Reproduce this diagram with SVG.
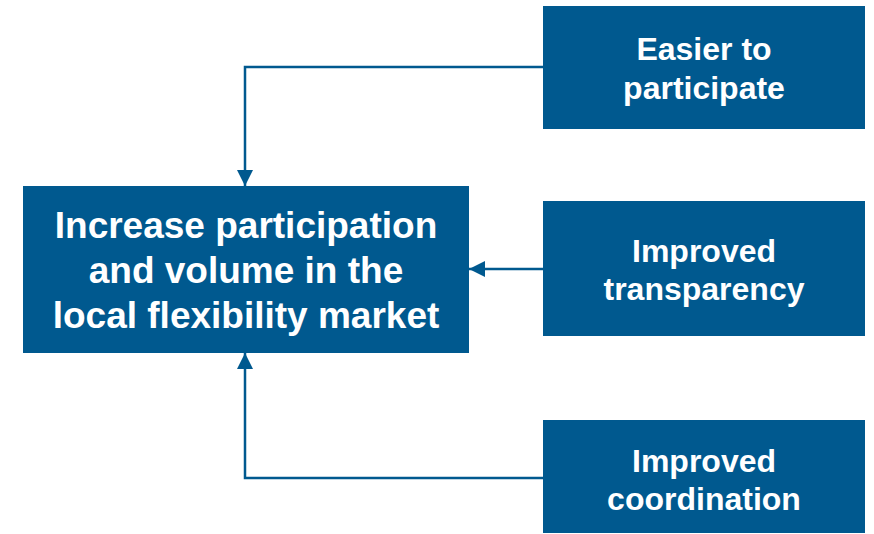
<svg xmlns="http://www.w3.org/2000/svg" width="874" height="534" viewBox="0 0 874 534">
<style>
.box{fill:#00598F}
.t{fill:#fff;font-family:"Liberation Sans",Arial,sans-serif;font-weight:bold;text-anchor:middle}
.big{font-size:37px}
.sm{font-size:32px}
.c{fill:none;stroke:#00598F;stroke-width:2.5}
</style>
<defs>
<marker id="ah" viewBox="0 0 16 16" refX="16" refY="8" markerWidth="16" markerHeight="16" markerUnits="userSpaceOnUse" orient="auto">
<path d="M0,0 L16,8 L0,16 Z" fill="#00598F"/>
</marker>
</defs>
<g id="connectors">
<path class="c" d="M543,67 H245 V186" marker-end="url(#ah)"/>
<path class="c" d="M543,269 H469" marker-end="url(#ah)"/>
<path class="c" d="M543,478 H245 V353" marker-end="url(#ah)"/>
</g>
<g id="main">
<rect class="box" x="23" y="186" width="446" height="167"/>
<text class="t big" x="246" y="238">Increase participation</text>
<text class="t big" x="246" y="283">and volume in the</text>
<text class="t big" x="246" y="328">local flexibility market</text>
</g>
<g id="easier">
<rect class="box" x="543" y="6" width="322" height="123"/>
<text class="t sm" x="704" y="60">Easier to</text>
<text class="t sm" x="704" y="99">participate</text>
</g>
<g id="transparency">
<rect class="box" x="543" y="201" width="322" height="135"/>
<text class="t sm" x="704" y="262">Improved</text>
<text class="t sm" x="704" y="300">transparency</text>
</g>
<g id="coordination">
<rect class="box" x="543" y="420" width="322" height="113"/>
<text class="t sm" x="704" y="472">Improved</text>
<text class="t sm" x="704" y="510">coordination</text>
</g>
</svg>
